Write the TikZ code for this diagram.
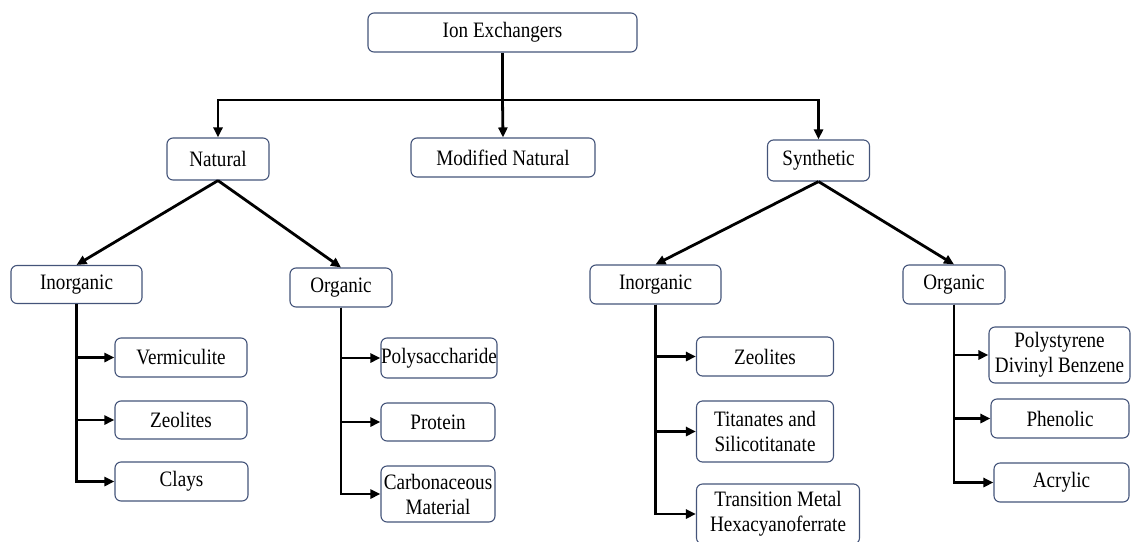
\documentclass[tikz,border=0pt]{standalone}
\usepackage{fontspec}
\setmainfont{Liberation Serif}[FakeStretch=0.87]
\usetikzlibrary{arrows.meta}
\definecolor{boxblue}{RGB}{68,84,122}
\begin{document}
\begin{tikzpicture}[x=1pt,y=-1pt,
                        box/.style={shape=rectangle,draw=boxblue,line width=1.1pt,rounded corners=6pt,
                                    align=center,inner sep=0pt,font=\fontsize{22}{25}\selectfont},
                        arr/.style={-{Triangle[length=10pt,width=9pt]},line width=2.8pt}]
                        \useasboundingbox (0,0) rectangle (1134,541);
                        % top levels
                        \node[box,minimum width=269pt,minimum height=39pt] at (502.5,32.5) (ion) {Ion Exchangers};
                        \node[box,minimum width=102pt,minimum height=42pt] at (218,159) (nat) {Natural};
                        \node[box,minimum width=184pt,minimum height=39pt] at (503,157.5) (mod) {Modified Natural};
                        \node[box,minimum width=102pt,minimum height=41pt] at (818.5,160.5) (syn) {Synthetic};
                        \coordinate (hub) at (502.5,100);
                        \draw[line width=2.8pt] (ion.south) -- (hub);
                        \draw[arr] (hub) -| (nat.north);
                        \draw[arr] (hub) -- (mod.north);
                        \draw[arr] (hub) -| (syn.north);
                        % natural
                        \node[box,minimum width=131pt,minimum height=38pt] at (76.5,284.5) (ninorg) {Inorganic};
                        \node[box,minimum width=102pt,minimum height=39pt] at (341,287.5) (norg) {Organic};
                        \draw[arr] (nat.south) -- (ninorg.north);
                        \draw[arr] (nat.south) -- (norg.north);
                        \node[box,minimum width=132pt,minimum height=39pt] at (181,357.5) (verm) {Vermiculite};
                        \node[box,minimum width=132pt,minimum height=38pt] at (181,420) (nzeo) {Zeolites};
                        \node[box,minimum width=133pt,minimum height=39pt] at (181.5,481.5) (clays) {Clays};
                        \draw[arr] (ninorg.south) |- (verm.west);
                        \draw[arr] (ninorg.south) |- (nzeo.west);
                        \draw[arr] (ninorg.south) |- (clays.west);
                        \node[box,minimum width=116pt,minimum height=40pt] at (439,358) (poly) {Polysaccharide};
                        \node[box,minimum width=114pt,minimum height=38pt] at (438,422) (prot) {Protein};
                        \node[box,minimum width=114pt,minimum height=56pt] at (438,494) (carb) {Carbonaceous\\Material};
                        \draw[arr] (norg.south) |- (poly.west);
                        \draw[arr] (norg.south) |- (prot.west);
                        \draw[arr] (norg.south) |- (carb.west);
                        % synthetic
                        \node[box,minimum width=131pt,minimum height=39pt] at (655.5,284.5) (sinorg) {Inorganic};
                        \node[box,minimum width=102pt,minimum height=39pt] at (954,284.5) (sorg) {Organic};
                        \draw[arr] (syn.south) -- (sinorg.north);
                        \draw[arr] (syn.south) -- (sorg.north);
                        \node[box,minimum width=137pt,minimum height=39pt] at (765,356.5) (szeo) {Zeolites};
                        \node[box,minimum width=137pt,minimum height=61pt] at (765,431.5) (tit) {Titanates and\\Silicotitanate};
                        \node[box,minimum width=163pt,minimum height=60pt] at (778,514) (trans) {Transition Metal\\Hexacyanoferrate};
                        \draw[arr] (sinorg.south) |- (szeo.west);
                        \draw[arr] (sinorg.south) |- (tit.west);
                        \draw[arr] (sinorg.south) |- (trans.west);
                        \node[box,minimum width=141pt,minimum height=56pt] at (1059.5,355) (polys) {Polystyrene\\Divinyl Benzene};
                        \node[box,minimum width=138pt,minimum height=39pt] at (1060,418.5) (phen) {Phenolic};
                        \node[box,minimum width=135pt,minimum height=39pt] at (1061.5,482.5) (acryl) {Acrylic};
                        \draw[arr] (sorg.south) |- (polys.west);
                        \draw[arr] (sorg.south) |- (phen.west);
                        \draw[arr] (sorg.south) |- (acryl.west);
                \end{tikzpicture}
\end{document}
